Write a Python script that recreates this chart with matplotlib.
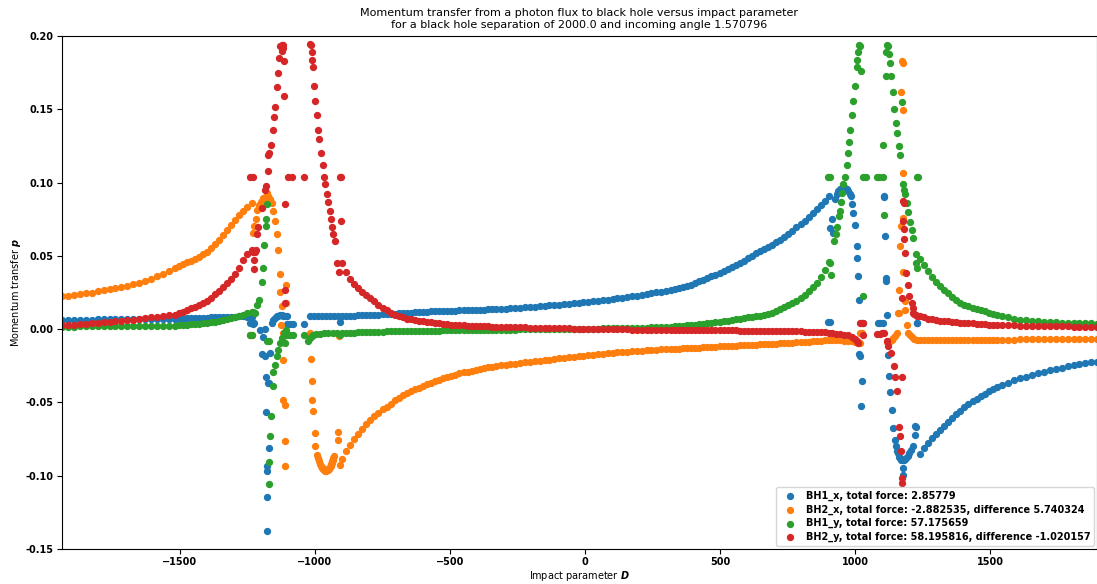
import matplotlib
matplotlib.use("Agg")
from matplotlib import pyplot as plt

# impact parameter grid shared by the smooth parts of all four series
D = [
    -1937, -1915, -1893, -1871, -1849, -1827, -1805, -1783, -1761, -1739,
    -1717, -1695, -1673, -1651, -1629, -1607, -1585, -1563, -1541,
    -1520, -1505, -1490, -1475, -1460, -1445, -1430, -1415, -1400, -1385,
    -1370, -1355, -1340, -1325, -1310, -1295, -1280, -1265, -1250, -1235,
    -900, -885, -870, -855, -840, -825, -810, -795, -780, -765, -750, -735,
    -720, -705, -690, -675, -660, -645, -630, -615, -600, -585, -570, -555,
    -540, -525, -510, -495, -480, -465, -450, -435, -420, -405, -390, -375,
    -360, -345,
    -330, -312, -294, -276, -258, -240, -222, -204, -186, -168, -150, -132,
    -114, -96, -78, -60, -42, -24, -6, 12, 30, 48, 66, 84, 102, 120, 138,
    156, 174, 192, 210, 228, 246, 264, 282, 300, 318,
    333, 348, 363, 378, 393, 408, 423, 438, 453, 468, 483, 498, 513, 528,
    543, 558, 573, 588, 603, 618, 633, 648, 663, 678, 693, 708, 723, 738,
    753, 768, 783, 798, 813, 828, 843, 858, 873, 888, 903,
    1240, 1255, 1270, 1285, 1300, 1315, 1330, 1345, 1360, 1375, 1390, 1405,
    1420, 1435, 1450, 1465, 1480, 1495, 1510, 1525,
    1545, 1567, 1589, 1611, 1633, 1655, 1677, 1699, 1721, 1743, 1765, 1787,
    1809, 1831, 1853, 1875, 1897,
]

bh1_x = [
    0.0065, 0.0065, 0.0066, 0.0066, 0.0066, 0.0066, 0.0067, 0.0067, 0.0067, 0.0067,
    0.0068, 0.0068, 0.0068, 0.0068, 0.0069, 0.0069, 0.0069, 0.0070, 0.0070,
    0.0071, 0.0072, 0.0073, 0.0074, 0.0075, 0.0076, 0.0077, 0.0078, 0.0079, 0.0080,
    0.0081, 0.0082, 0.0083, 0.0084, 0.0085, 0.0086, 0.0087, 0.0087, 0.0086, 0.0082,
    0.0090, 0.0091, 0.0092, 0.0093, 0.0094, 0.0095, 0.0097, 0.0098, 0.0099, 0.0100,
    0.0102, 0.0103, 0.0105, 0.0106, 0.0108, 0.0110, 0.0111, 0.0113, 0.0115, 0.0117,
    0.0119, 0.0120, 0.0121, 0.0122, 0.0123, 0.0124, 0.0125, 0.0126, 0.0127, 0.0128,
    0.0129, 0.0130, 0.0131, 0.0132, 0.0133, 0.0134, 0.0135, 0.0136,
    0.0137, 0.0139, 0.0141, 0.0143, 0.0145, 0.0147, 0.0149, 0.0151, 0.0154, 0.0157,
    0.0160, 0.0162, 0.0165, 0.0168, 0.0171, 0.0174, 0.0177, 0.0180, 0.0184, 0.0187,
    0.0190, 0.0194, 0.0198, 0.0202, 0.0206, 0.0210, 0.0214, 0.0219, 0.0224, 0.0229,
    0.0234, 0.0239, 0.0245, 0.0251, 0.0257, 0.0263, 0.0270,
    0.0272, 0.0280, 0.0288, 0.0296, 0.0305, 0.0315, 0.0326, 0.0337, 0.0348, 0.0360,
    0.0373, 0.0386, 0.0398, 0.0410, 0.0424, 0.0438, 0.0452, 0.0467, 0.0483, 0.0500,
    0.0517, 0.0532, 0.0546, 0.0560, 0.0575, 0.0592, 0.0610, 0.0630, 0.0650, 0.0672,
    0.0695, 0.0718, 0.0741, 0.0765, 0.0790, 0.0818, 0.0848, 0.0878, 0.0910,
    -0.0850, -0.0810, -0.0775, -0.0743, -0.0713, -0.0685, -0.0658, -0.0632, -0.0607, -0.0582,
    -0.0557, -0.0534, -0.0512, -0.0492, -0.0474, -0.0457, -0.0441, -0.0425, -0.0410, -0.0395,
    -0.0380, -0.0365, -0.0350, -0.0336, -0.0323, -0.0311, -0.0300, -0.0290, -0.0280, -0.0271,
    -0.0262, -0.0254, -0.0247, -0.0240, -0.0233, -0.0227, -0.0221,
]

bh2_x = [
    0.0225, 0.0230, 0.0235, 0.0240, 0.0245, 0.0250, 0.0258, 0.0265, 0.0272, 0.0280,
    0.0288, 0.0297, 0.0307, 0.0318, 0.0330, 0.0345, 0.0360, 0.0380, 0.0400,
    0.0420, 0.0432, 0.0444, 0.0456, 0.0467, 0.0480, 0.0495, 0.0510, 0.0530, 0.0555,
    0.0580, 0.0610, 0.0640, 0.0675, 0.0710, 0.0745, 0.0780, 0.0810, 0.0835, 0.0860,
    -0.0885, -0.0830, -0.0790, -0.0750, -0.0715, -0.0680, -0.0650, -0.0620, -0.0595, -0.0570,
    -0.0548, -0.0528, -0.0510, -0.0485, -0.0468, -0.0452, -0.0437, -0.0423, -0.0410, -0.0398,
    -0.0386, -0.0375, -0.0364, -0.0354, -0.0344, -0.0335, -0.0326, -0.0318, -0.0310, -0.0302,
    -0.0295, -0.0289, -0.0283, -0.0277, -0.0271, -0.0266, -0.0261, -0.0256,
    -0.0251, -0.0247, -0.0243, -0.0239, -0.0235, -0.0231, -0.0227, -0.0223, -0.0219, -0.0215,
    -0.0211, -0.0207, -0.0203, -0.0199, -0.0195, -0.0191, -0.0187, -0.0183, -0.0180, -0.0176,
    -0.0173, -0.0170, -0.0167, -0.0164, -0.0161, -0.0158, -0.0156, -0.0153, -0.0151, -0.0149,
    -0.0146, -0.0144, -0.0142, -0.0140, -0.0138, -0.0136, -0.0134,
    -0.0134, -0.0132, -0.0131, -0.0129, -0.0128, -0.0126, -0.0125, -0.0123, -0.0122, -0.0120,
    -0.0119, -0.0117, -0.0116, -0.0114, -0.0113, -0.0112, -0.0110, -0.0109, -0.0108, -0.0106,
    -0.0105, -0.0104, -0.0102, -0.0101, -0.0099, -0.0098, -0.0096, -0.0095, -0.0093, -0.0092,
    -0.0090, -0.0088, -0.0087, -0.0085, -0.0083, -0.0081, -0.0079, -0.0077, -0.0075,
    -0.0072, -0.0072, -0.0072, -0.0072, -0.0072, -0.0072, -0.0072, -0.0072, -0.0072, -0.0072,
    -0.0072, -0.0072, -0.0072, -0.0072, -0.0072, -0.0072, -0.0071, -0.0071, -0.0071, -0.0071,
    -0.0071, -0.0071, -0.0071, -0.0070, -0.0070, -0.0070, -0.0070, -0.0069, -0.0069, -0.0069,
    -0.0069, -0.0068, -0.0068, -0.0068, -0.0068, -0.0067, -0.0067,
]

bh1_y = [
    0.0018, 0.0018, 0.0018, 0.0019, 0.0019, 0.0019, 0.0019, 0.0020, 0.0020, 0.0020,
    0.0020, 0.0021, 0.0021, 0.0021, 0.0022, 0.0022, 0.0023, 0.0023, 0.0024,
    0.0025, 0.0027, 0.0029, 0.0031, 0.0033, 0.0035, 0.0038, 0.0041, 0.0044, 0.0048,
    0.0052, 0.0057, 0.0062, 0.0068, 0.0075, 0.0082, 0.0090, 0.0099, 0.0108, 0.0118,
    -0.0026, -0.0025, -0.0024, -0.0023, -0.0022, -0.0021, -0.0020, -0.0019, -0.0018, -0.0017,
    -0.0016, -0.0015, -0.0015, -0.0014, -0.0014, -0.0013, -0.0013, -0.0012, -0.0012, -0.0011,
    -0.0011, -0.0010, -0.0010, -0.0009, -0.0009, -0.0008, -0.0008, -0.0007, -0.0007, -0.0007,
    -0.0006, -0.0006, -0.0005, -0.0005, -0.0005, -0.0004, -0.0004, -0.0004,
    -0.0003, -0.0003, -0.0002, -0.0002, -0.0002, -0.0001, -0.0001, -0.0001, 0.0000, 0.0000,
    0.0000, 0.0001, 0.0001, 0.0001, 0.0002, 0.0002, 0.0002, 0.0003, 0.0003, 0.0003,
    0.0004, 0.0004, 0.0005, 0.0005, 0.0006, 0.0006, 0.0007, 0.0008, 0.0008, 0.0009,
    0.0010, 0.0011, 0.0012, 0.0013, 0.0015, 0.0016, 0.0018,
    0.0020, 0.0022, 0.0024, 0.0026, 0.0028, 0.0031, 0.0034, 0.0037, 0.0040, 0.0044,
    0.0048, 0.0052, 0.0055, 0.0059, 0.0063, 0.0067, 0.0071, 0.0075, 0.0080, 0.0084,
    0.0088, 0.0093, 0.0099, 0.0106, 0.0114, 0.0124, 0.0136, 0.0150, 0.0163, 0.0178,
    0.0195, 0.0214, 0.0236, 0.0260, 0.0287, 0.0318, 0.0355, 0.0405, 0.0460,
    0.0480, 0.0438, 0.0395, 0.0357, 0.0325, 0.0295, 0.0270, 0.0245, 0.0222, 0.0200,
    0.0180, 0.0167, 0.0157, 0.0148, 0.0140, 0.0131, 0.0122, 0.0112, 0.0102, 0.0096,
    0.0088, 0.0080, 0.0073, 0.0066, 0.0060, 0.0056, 0.0053, 0.0050, 0.0048, 0.0046,
    0.0044, 0.0043, 0.0042, 0.0041, 0.0040, 0.0039, 0.0038,
]

bh2_y = [
    0.0028, 0.0030, 0.0032, 0.0035, 0.0038, 0.0040, 0.0043, 0.0046, 0.0050, 0.0053,
    0.0057, 0.0060, 0.0065, 0.0070, 0.0075, 0.0080, 0.0086, 0.0092, 0.0099,
    0.0100, 0.0110, 0.0120, 0.0130, 0.0142, 0.0155, 0.0165, 0.0178, 0.0195, 0.0215,
    0.0237, 0.0260, 0.0287, 0.0315, 0.0345, 0.0380, 0.0420, 0.0470, 0.0510, 0.0540,
    0.0450, 0.0390, 0.0345, 0.0310, 0.0280, 0.0255, 0.0232, 0.0210, 0.0190, 0.0167,
    0.0147, 0.0130, 0.0113, 0.0097, 0.0088, 0.0080, 0.0073, 0.0067, 0.0062, 0.0057,
    0.0053, 0.0049, 0.0046, 0.0042, 0.0039, 0.0036, 0.0033, 0.0031, 0.0029, 0.0027,
    0.0026, 0.0024, 0.0023, 0.0022, 0.0021, 0.0020, 0.0019, 0.0018,
    0.0018, 0.0017, 0.0016, 0.0015, 0.0014, 0.0013, 0.0012, 0.0011, 0.0010, 0.0009,
    0.0008, 0.0008, 0.0007, 0.0006, 0.0005, 0.0005, 0.0004, 0.0003, 0.0003, 0.0002,
    0.0002, 0.0001, 0.0001, 0.0000, 0.0000, -0.0001, -0.0001, -0.0001, -0.0002, -0.0002,
    -0.0002, -0.0003, -0.0003, -0.0003, -0.0003, -0.0004, -0.0004,
    -0.0004, -0.0004, -0.0005, -0.0005, -0.0005, -0.0005, -0.0006, -0.0006, -0.0006, -0.0006,
    -0.0007, -0.0007, -0.0007, -0.0008, -0.0008, -0.0008, -0.0009, -0.0009, -0.0009, -0.0010,
    -0.0010, -0.0010, -0.0011, -0.0011, -0.0011, -0.0012, -0.0012, -0.0013, -0.0013, -0.0014,
    -0.0014, -0.0015, -0.0016, -0.0017, -0.0018, -0.0019, -0.0020, -0.0022, -0.0025,
    0.0088, 0.0080, 0.0073, 0.0067, 0.0063, 0.0059, 0.0056, 0.0053, 0.0050, 0.0047,
    0.0045, 0.0043, 0.0041, 0.0039, 0.0037, 0.0035, 0.0033, 0.0031, 0.0030, 0.0029,
    0.0028, 0.0027, 0.0026, 0.0025, 0.0024, 0.0023, 0.0022, 0.0021, 0.0021, 0.0020,
    0.0019, 0.0019, 0.0018, 0.0018, 0.0017, 0.0017, 0.0016,
]

# scattered points near the two black holes (D, p) read one by one
bh1_x_extra_d = [
    -1241, -1231, -1226, -1204, -1191, -1167, -1185, -1183, -1170, -1181, -1170,
    -1176, -1176, -1178, -1178, -1185, -1198, -1173,
    -1160, -1154, -1148, -1142, -1136, -1130, -1123, -1117, -1111, -1105,
    -1103, -1092, -1080, -1041, -907,
    -1019, -1005, -990, -975, -960, -945, -930, -915,
    907, 914, 920, 926, 932, 938, 944, 951, 957, 963, 969, 975, 980, 984, 988,
    994, 1000, 1006, 1009, 1010, 1015, 1016, 1018, 1027, 1022, 901, 907,
    1107, 1107, 1111, 1113, 1115, 1117, 1086, 1093, 1103, 1031, 1228, 1231,
    1123, 1126, 1130, 1136, 1142, 1148, 1152, 1157, 1160, 1164, 1167, 1172,
    1176, 1181, 1185, 1189, 1195, 1201, 1207, 1214, 1176, 1176, 1222, 1222, 1225,
]
bh1_x_extra_p = [
    0.0045, 0.0038, 0.0042, -0.0003, -0.0053, -0.0162, -0.0180, -0.0326, -0.0367, -0.0568, -0.0811,
    -0.0937, -0.0971, -0.1142, -0.1374, 0.0000, -0.0170, -0.0367,
    0.0043, 0.0060, 0.0077, 0.0088, 0.0093, 0.0094, 0.0094, 0.0093, 0.0090, 0.0088,
    0.0038, 0.0038, 0.0038, 0.0038, 0.0050,
    0.0088, 0.0088, 0.0089, 0.0089, 0.0089, 0.0090, 0.0090, 0.0090,
    0.0692, 0.0754, 0.0658, 0.0886, 0.0920, 0.0943, 0.0955, 0.0966, 0.0968, 0.0966, 0.0955, 0.0943, 0.0925, 0.0908, 0.0856,
    0.0795, 0.0708, 0.0567, 0.0487, 0.0362, 0.0202, -0.0167, -0.0185, -0.0351, -0.0522, 0.0047, 0.0047,
    0.0910, 0.0900, 0.0635, 0.0330, 0.0350, 0.0100, 0.0043, 0.0043, 0.0043, 0.0043, 0.0043, 0.0043,
    -0.0174, -0.0322, -0.0431, -0.0554, -0.0675, -0.0755, -0.0800, -0.0830, -0.0846, -0.0870, -0.0880, -0.0890,
    -0.0896, -0.0890, -0.0885, -0.0880, -0.0865, -0.0846, -0.0825, -0.0800, -0.0948, -0.0994, -0.0664, -0.0720, -0.0670,
]

bh2_x_extra_d = [
    -1231, -1225, -1218, -1213, -1207, -1200, -1198, -1194, -1185, -1176, -1173,
    -1167, -1160, -1154, -1148, -1142, -1136, -1130, -1128, -1107, -1107, -1123,
    -1127, -1117, -1235, -1240, -1120, -1117, -1110, -1111, -1110,
    -1019, -1016, -1011, -1010, -1007, -1000, -999, -993, -989, -984, -981, -978,
    -975, -972, -969, -967, -964, -962, -959, -957, -954, -952, -949, -947, -944,
    -942, -940, -938, -936, -934, -932, -930, -914, -914, -907, -910,
    915, 930, 945, 960, 975, 990, 1000, 1010, 1015,
    1173, 1176, 1170, 1176, 1176, 1176, 1169, 1167, 1179, 1164, 1185, 1163, 1160,
    1185, 1191, 1197, 1204, 1210, 1219, 1228, 1154, 1148, 1142, 1136, 1130, 1123,
    1117, 1019, 1025, 1019,
]
bh2_x_extra_p = [
    0.0658, 0.0703, 0.0750, 0.0817, 0.0850, 0.0870, 0.0874, 0.0897, 0.0890, 0.0932, 0.0909,
    0.0886, 0.0863, 0.0806, 0.0738, 0.0647, 0.0544, 0.0378, 0.0255, 0.0303, 0.0180, 0.0157,
    0.0030, -0.0025, -0.0037, -0.0037, -0.0208, -0.0480, -0.0515, -0.0766, -0.0932,
    -0.0025, -0.0203, -0.0356, -0.0486, -0.0561, -0.0709, -0.0794, -0.0857, -0.0880, -0.0903, -0.0920, -0.0937,
    -0.0945, -0.0950, -0.0956, -0.0960, -0.0963, -0.0965, -0.0965, -0.0964, -0.0961, -0.0958, -0.0953, -0.0948, -0.0940,
    -0.0932, -0.0923, -0.0914, -0.0902, -0.0890, -0.0877, -0.0864, -0.0702, -0.0755, -0.0925, -0.0044,
    -0.0075, -0.0076, -0.0077, -0.0078, -0.0080, -0.0082, -0.0086, -0.0090, -0.0094,
    0.1831, 0.1820, 0.1620, 0.1494, 0.1068, 0.0760, 0.0703, 0.0571, 0.0391, 0.0271, 0.0191, 0.0111, 0.0111,
    0.0129, 0.0031, -0.0025, -0.0040, -0.0053, -0.0065, -0.0071, -0.0025, -0.0048, -0.0060, -0.0071, -0.0078, -0.0082,
    -0.0085, -0.0025, -0.0025, -0.0094,
]

bh1_y_extra_d = [
    -1240, -1235, -1228, -1222, -1213, -1207, -1198, -1191, -1189, -1181, -1181, -1176,
    -1172, -1178, -1142, -1148, -1154, -1157, -1162, -1167, -1170, -1172,
    -1136, -1130, -1123, -1115, -1107, -1111, -1105, -1092, -1080, -1041,
    -1025, -1019, -1012, -1006, -995, -980, -965, -950, -935, -920, -907,
    907, 911, 1015, 1019, 1010, 1006, 1006, 1022, 1000, 991, 988, 981, 978, 973,
    969, 963, 957, 951, 947, 944, 941, 932, 930, 922,
    901, 907, 1028, 1041, 1080, 1090, 1105, 1228, 1234, 1105, 1107, 1028,
    1117, 1123, 1115, 1127, 1130, 1115, 1133, 1140, 1144, 1173, 1152, 1157,
    1164, 1167, 1177, 1181, 1185, 1191, 1197, 1204, 1210, 1214, 1226, 1228, 1226,
]
bh1_y_extra_p = [
    -0.0037, -0.0037, 0.0120, 0.0110, 0.0168, 0.0202, 0.0320, 0.0419, 0.0578, 0.0703, 0.0754, 0.0852,
    -0.0083, -0.0083, -0.0185, -0.0242, -0.0294, -0.0386, -0.0595, -0.0732, -0.0907, -0.1058,
    -0.0139, -0.0094, -0.0060, -0.0025, -0.0008, -0.0094, -0.0037, -0.0037, -0.0037, -0.0037,
    -0.0083, -0.0060, -0.0045, -0.0037, -0.0033, -0.0030, -0.0028, -0.0027, -0.0026, -0.0026, -0.0037,
    0.0453, 0.0373, 0.1940, 0.1930, 0.1890, 0.1840, 0.1790, 0.1760, 0.1660, 0.1560, 0.1460, 0.1360, 0.1280, 0.1200,
    0.1120, 0.1040, 0.0990, 0.0930, 0.0870, 0.0810, 0.0770, 0.0700, 0.0650, 0.0600,
    0.1040, 0.1040, 0.1040, 0.1040, 0.1040, 0.1040, 0.1040, 0.1040, 0.1040, 0.1260, 0.0780, 0.0226,
    0.1940, 0.1930, 0.1890, 0.1880, 0.1820, 0.1730, 0.1730, 0.1620, 0.1500, 0.1550, 0.1410, 0.1340,
    0.1250, 0.1190, 0.0990, 0.0950, 0.0920, 0.0860, 0.0800, 0.0730, 0.0680, 0.0620, 0.0450, 0.0420, 0.0510,
]

bh2_y_extra_d = [
    -1228, -1222, -1225, -1225, -1240, -1228, -1099, -1086, -1041, -907, -902,
    -1110, -1111, -1111,
    -1123, -1117, -1130, -1117, -1123, -1132, -1115, -1136, -1142, -1114, -1147,
    -1152, -1157, -1164, -1169, -1173, -1175, -1181, -1185, -1198, -1210, -1216, -1220,
    -1019, -1015, -1012, -1010, -1009, -1003, -999, -994, -988, -984, -978, -972,
    -967, -962, -957, -953, -946, -942, -936, -932, -927, -904, -920, -912,
    1176, 1181, 1178, 1181, 1183, 1185, 1189, 1197, 1173, 1201, 1210, 1214, 1216,
    1028, 1019, 1022, 915, 930, 945, 960, 975, 990, 1000, 1008, 1012,
    1031, 1080, 1093, 1100, 1107, 1117, 1123, 1132, 1146, 1148, 1173, 1157, 1163,
    1167, 1169, 1173, 1173, 1220, 1225, 1230,
]
bh2_y_extra_p = [
    0.0530, 0.0530, 0.0470, 0.0410, 0.1041, 0.1041, 0.1041, 0.1041, 0.1041, 0.1041, 0.1041,
    0.0856, 0.0270, 0.0180,
    0.1940, 0.1940, 0.1930, 0.1920, 0.1900, 0.1850, 0.1830, 0.1750, 0.1650, 0.1590, 0.1520,
    0.1450, 0.1360, 0.1260, 0.1200, 0.1190, 0.1080, 0.0980, 0.0950, 0.0830, 0.0700, 0.0650, 0.0540,
    0.1950, 0.1940, 0.1890, 0.1840, 0.1790, 0.1660, 0.1560, 0.1460, 0.1360, 0.1300, 0.1200, 0.1120,
    0.1040, 0.0990, 0.0920, 0.0870, 0.0810, 0.0750, 0.0700, 0.0650, 0.0600, 0.0740, 0.0450, 0.0390,
    0.0874, 0.0863, 0.0738, 0.0686, 0.0617, 0.0517, 0.0385, 0.0305, 0.0214, 0.0225, 0.0180, 0.0146, 0.0111,
    0.0043, 0.0043, 0.0043, -0.0027, -0.0030, -0.0033, -0.0037, -0.0042, -0.0055, -0.0068, -0.0082, -0.0094,
    -0.0037, -0.0030, -0.0030, -0.0028, -0.0025, -0.0083, -0.0117, -0.0162, -0.0253, -0.0326, -0.0326, -0.0424, -0.0668,
    -0.0732, -0.0834, -0.1017, -0.1051, 0.0105, 0.0098, 0.0092,
]

labels = [
    "BH1_x, total force: 2.85779",
    "BH2_x, total force: -2.882535, difference 5.740324",
    "BH1_y, total force: 57.175659",
    "BH2_y, total force: 58.195816, difference -1.020157",
]

series = [
    (bh1_x, bh1_x_extra_d, bh1_x_extra_p),
    (bh2_x, bh2_x_extra_d, bh2_x_extra_p),
    (bh1_y, bh1_y_extra_d, bh1_y_extra_p),
    (bh2_y, bh2_y_extra_d, bh2_y_extra_p),
]

fig = plt.figure(figsize=(10.97, 5.84), dpi=100)
ax = fig.add_axes([0.0565, 0.06, 0.9435, 0.878])

for (vals, ed, ep), lab in zip(series, labels):
    ax.scatter(D + ed, vals + ep, s=18, label=lab)

ax.set_xlim(-1937, 1896)
ax.set_ylim(-0.15, 0.2)
ax.set_xticks([-1500, -1000, -500, 0, 500, 1000, 1500])
ax.set_yticks([-0.15, -0.10, -0.05, 0.0, 0.05, 0.10, 0.15, 0.20])
ax.set_yticklabels(["%.2f" % v for v in ax.get_yticks()])
ax.tick_params(axis="both", labelsize=7, pad=2.5)
for lbl in ax.get_xticklabels() + ax.get_yticklabels():
    lbl.set_fontweight("bold")

ax.set_title("Momentum transfer from a photon flux to black hole versus impact parameter\n"
             "for a black hole separation of 2000.0 and incoming angle 1.570796", fontsize=8)
ax.set_xlabel(r"Impact parameter $\boldsymbol{D}$", fontsize=7, labelpad=1)
ax.set_ylabel(r"Momentum transfer $\boldsymbol{p}$", fontsize=7, labelpad=2)

ax.legend(loc="lower right", prop={"weight": "bold", "size": 7},
          borderaxespad=0.3, handletextpad=0.6, labelspacing=0.35)

fig.savefig("out.png", dpi=100)
